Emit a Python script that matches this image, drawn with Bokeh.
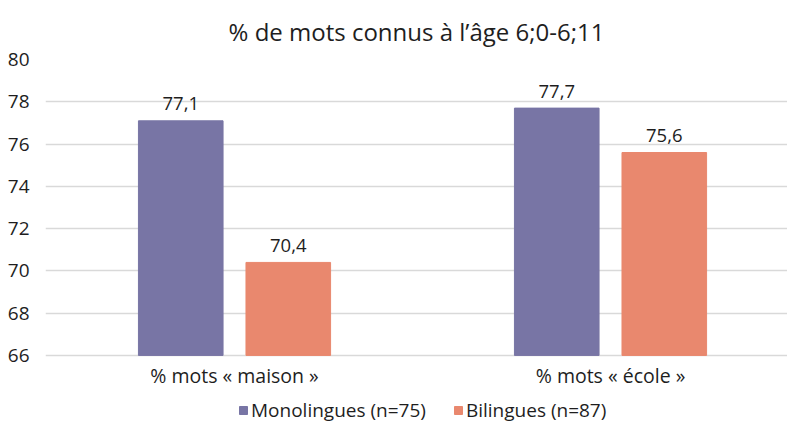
from bokeh.plotting import figure
from bokeh.models import FactorRange, Range1d, ColumnDataSource, FixedTicker
from bokeh.transform import dodge
from bokeh.core.properties import value
from bokeh.embed import file_html
from bokeh.resources import INLINE

categories = ["% mots « maison »", "% mots « école »"]
series_names = ["Monolingues (n=75)", "Bilingues (n=87)"]
mono = [77.1, 77.7]
bili = [70.4, 75.6]
y_ticks = [66, 68, 70, 72, 74, 76, 78, 80]

colors = ["#7875A5", "#E9886E"]
FONT = "Open Sans"
TXT = "#1e1e1e"
GRID = "#d9d9d9"

src = ColumnDataSource(dict(
    cat=categories,
    mono=mono,
    bili=bili,
    mono_lbl=[f"{v:.1f}".replace(".", ",") for v in mono],
    bili_lbl=[f"{v:.1f}".replace(".", ",") for v in bili],
))

# y range extends below the axis baseline (66) to leave room for the
# category labels and the legend inside the frame
p = figure(width=787, height=423, output_backend="svg", toolbar_location=None,
           x_range=FactorRange(*categories, range_padding=-0.0133,
                               range_padding_units="absolute"),
           y_range=Range1d(62.78, 80),
           title="% de mots connus à l’âge 6;0-6;11")
p.min_border_left = 45
p.min_border_right = 0
p.min_border_top = 59
p.min_border_bottom = 0
p.outline_line_color = None

p.title.align = "center"
p.title.text_font = FONT
p.title.text_font_size = "24px"
p.title.text_font_style = "normal"
p.title.text_color = TXT
p.title.standoff = 24
p.title.offset = 5

shift = 0.016
off = 0.143
bw = 0.225
r1 = p.vbar(x=dodge("cat", shift - off, range=p.x_range), top="mono", bottom=66,
            width=bw, source=src, color=colors[0], legend_label=series_names[0])
r2 = p.vbar(x=dodge("cat", shift + off, range=p.x_range), top="bili", bottom=66,
            width=bw, source=src, color=colors[1], legend_label=series_names[1])

for col, lbl, d in (("mono", "mono_lbl", shift - off), ("bili", "bili_lbl", shift + off)):
    p.text(x=dodge("cat", d, range=p.x_range), y=col, text=lbl, source=src,
           text_align="center", text_baseline="middle", y_offset=-17,
           text_font=value(FONT), text_font_size="18.5px", text_color=TXT)

# category labels (x axis)
p.text(x=dodge("cat", shift, range=p.x_range), y=66, text="cat", source=src,
       text_align="center", text_baseline="middle", y_offset=20,
       text_font=value(FONT), text_font_size="19.5px", text_color=TXT)
p.xaxis.visible = False

p.yaxis.ticker = FixedTicker(ticks=y_ticks)
p.yaxis.axis_line_color = None
p.yaxis.major_tick_line_color = None
p.yaxis.minor_tick_line_color = None
p.yaxis.major_label_text_font = FONT
p.yaxis.major_label_text_font_size = "19px"
p.yaxis.major_label_text_color = TXT
p.yaxis.major_label_standoff = 10

p.xgrid.grid_line_color = None
p.ygrid.grid_line_color = GRID
p.ygrid.grid_line_width = 1.5

lg = p.legend[0]
lg.orientation = "horizontal"
lg.location = (193, 0)
lg.label_text_font = FONT
lg.label_text_font_size = "19px"
lg.label_text_color = TXT
lg.glyph_width = 10
lg.glyph_height = 10
lg.label_standoff = 3
lg.spacing = 27
lg.padding = 0
lg.margin = 0
lg.border_line_color = None
lg.background_fill_alpha = 0

open("out.html", "w").write(file_html(p, INLINE))
